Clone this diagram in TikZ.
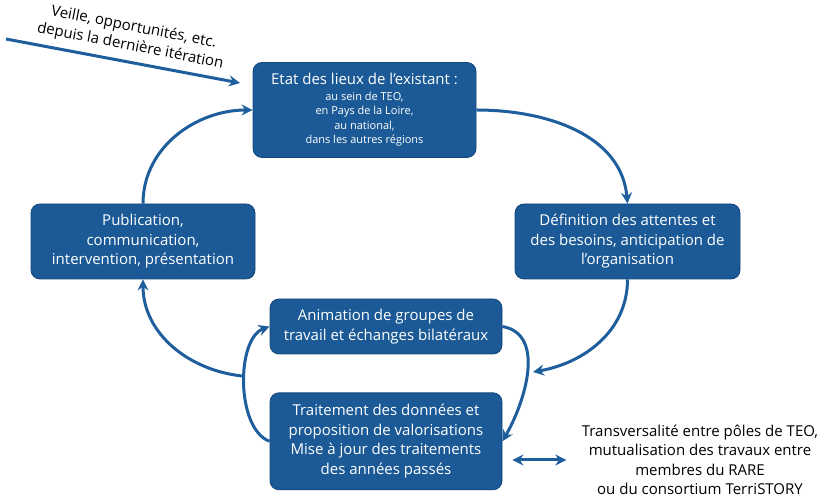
\documentclass[tikz,border=0pt]{standalone}
\usepackage{fontspec}
\setmainfont{Open Sans}
\usepackage{xcolor}
\usepackage{tikz}
\usetikzlibrary{arrows.meta, positioning}

\definecolor{teoblue}{HTML}{1B5A96}
\definecolor{teoborder}{HTML}{15467A}
\definecolor{teoarrow}{HTML}{1F5E9C}

\begin{document}
\begin{tikzpicture}[x=1pt, y=1pt]
\tikzstyle{etape} = [rectangle, draw=teoborder, fill=teoblue, text=white, align=center, rounded corners=9pt, line width=0.8pt, inner sep=0pt, font=\fontsize{15}{19.5}\selectfont]
\tikzstyle{flux} = [draw=teoarrow, line width=3pt, -{Stealth[length=11pt, width=11pt]}]

\useasboundingbox (0,0) rectangle (824,500);

% cycle
\node (etat) [etape, minimum width=223pt, minimum height=95pt, font=\fontsize{11}{14.5}\selectfont] at (364.5,390) {{\fontsize{15}{18}\selectfont Etat des lieux de l’existant :}\\[1pt] au sein de TEO,\\ en Pays de la Loire,\\ au national,\\ dans les autres régions};
\node (def) [etape, minimum width=225pt, minimum height=75pt] at (627.5,258.5) {Définition des attentes et\\ des besoins, anticipation de\\ l’organisation};
\node (pub) [etape, minimum width=224pt, minimum height=75pt] at (143,258.5) {Publication,\\ communication,\\ intervention, présentation};
\node (anim) [etape, minimum width=232pt, minimum height=55pt] at (386,173.5) {Animation de groupes de\\ travail et échanges bilatéraux};
\node (trait) [etape, minimum width=232pt, minimum height=97pt, below=38pt of anim] {Traitement des données et\\ proposition de valorisations\\ Mise à jour des traitements\\ des années passés};

% texts outside the cycle
\node (transv) [align=center, font=\fontsize{15}{19.5}\selectfont] at (700,40) {Transversalité entre pôles de TEO,\\ mutualisation des travaux entre\\ membres du RARE\\ ou du consortium TerriSTORY};
\node (veille) [align=center, rotate=-11, font=\fontsize{15}{19}\selectfont] at (132,463) {Veille, opportunités, etc.\\ depuis la dernière itération};

\coordinate (veilleA) at (6,461);
\coordinate (veilleB) at (240,417);
\coordinate (retour) at (533,128);

% arrows
\draw[flux] (veilleA) -- (veilleB);
\draw[flux] (etat.east) to[out=0, in=95] (def.north);
\draw[flux] (def.south) to[out=-90, in=10] (retour);
\draw[flux] (anim.east) to[out=-10, in=60] (trait.east);
\draw[flux] (trait.west) to[out=160, in=200, looseness=0.8] coordinate[pos=0.55] (j) (anim.west);
\draw[flux] (j) to[out=175, in=-90] (pub.south);
\draw[flux] (pub.north) to[out=90, in=180] (etat.west);
\draw[flux, {Stealth[length=11pt, width=11pt]}-{Stealth[length=11pt, width=11pt]}, shorten <=10pt, shorten >=12pt] (trait.east |- transv.west) -- (transv.west);

\end{tikzpicture}
\end{document}
